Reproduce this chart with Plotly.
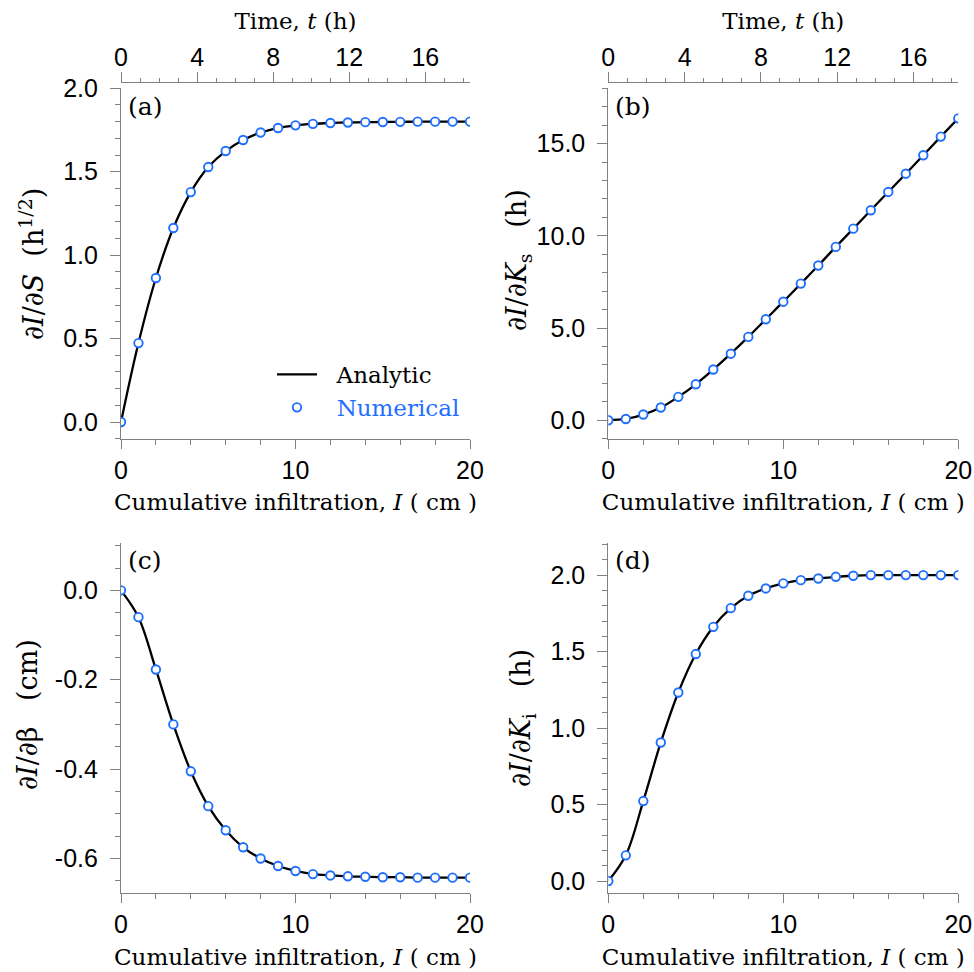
import plotly.graph_objects as go

# ---------------- data ----------------
I_cm = [0, 1, 2, 3, 4, 5, 6, 7, 8, 9, 10, 11, 12, 13, 14, 15, 16, 17, 18, 19, 20]

dIdS_num = [0.0, 0.473, 0.863, 1.163, 1.378, 1.528, 1.624, 1.690, 1.735, 1.762, 1.778,
            1.787, 1.792, 1.795, 1.797, 1.798, 1.799, 1.800, 1.800, 1.800, 1.800]
dIdS_ana = [0.0, 0.473, 0.863, 1.163, 1.378, 1.528, 1.624, 1.690, 1.735, 1.762, 1.778,
            1.787, 1.792, 1.795, 1.797, 1.798, 1.799, 1.800, 1.800, 1.800, 1.800]

dIdKs_num = [0.0, 0.07, 0.31, 0.69, 1.27, 1.95, 2.75, 3.61, 4.52, 5.48, 6.43,
             7.41, 8.39, 9.40, 10.39, 11.39, 12.38, 13.37, 14.37, 15.38, 16.37]
dIdKs_ana = [0.0, 0.07, 0.31, 0.69, 1.27, 1.95, 2.75, 3.61, 4.52, 5.48, 6.43,
             7.41, 8.39, 9.40, 10.39, 11.39, 12.38, 13.37, 14.37, 15.38, 16.37]

dIdB_num = [0.0, -0.060, -0.177, -0.300, -0.405, -0.483, -0.537, -0.575, -0.600, -0.617, -0.628,
            -0.635, -0.638, -0.640, -0.641, -0.642, -0.642, -0.643, -0.643, -0.643, -0.643]
dIdB_ana = [0.0, -0.060, -0.177, -0.300, -0.405, -0.483, -0.537, -0.575, -0.600, -0.617, -0.628,
            -0.635, -0.638, -0.640, -0.641, -0.642, -0.642, -0.643, -0.643, -0.643, -0.643]

dIdKi_num = [0.0, 0.168, 0.523, 0.906, 1.233, 1.484, 1.662, 1.784, 1.865, 1.913, 1.946,
             1.967, 1.978, 1.989, 1.996, 2.0, 2.0, 2.0, 2.0, 2.0, 2.0]
dIdKi_ana = [0.0, 0.168, 0.523, 0.906, 1.233, 1.484, 1.662, 1.784, 1.865, 1.913, 1.946,
             1.967, 1.978, 1.989, 1.996, 2.0, 2.0, 2.0, 2.0, 2.0, 2.0]

x_tickvals = [0, 10, 20]
x_ticktext = ["0", "10", "20"]
t_tickvals = [0, 4, 8, 12, 16]
t_ticktext = ["0", "4", "8", "12", "16"]
ya_tickvals = [0, 0.5, 1.0, 1.5, 2.0]
ya_ticktext = ["0.0", "0.5", "1.0", "1.5", "2.0"]
yb_tickvals = [0, 5, 10, 15]
yb_ticktext = ["0.0", "5.0", "10.0", "15.0"]
yc_tickvals = [0, -0.2, -0.4, -0.6]
yc_ticktext = ["0.0", "-0.2", "-0.4", "-0.6"]
yd_tickvals = [0, 0.5, 1.0, 1.5, 2.0]
yd_ticktext = ["0.0", "0.5", "1.0", "1.5", "2.0"]

panel_labels = ["(a)", "(b)", "(c)", "(d)"]
y_titles = [
    "∂<i>I</i>/∂<i>S</i>&nbsp;&nbsp;(h<sup>1/2</sup>)",
    "∂<i>I</i>/∂<i>K</i><sub>s</sub>&nbsp;&nbsp;&nbsp;(h)",
    "∂<i>I</i>/∂β&nbsp;&nbsp;&nbsp;(cm)",
    "∂<i>I</i>/∂<i>K</i><sub>i</sub>&nbsp;&nbsp;&nbsp;(h)",
]

# ---------------- styling ----------------
W, H = 974, 972
BLUE = "#1f6fff"
AXC = "#808080"
SANS = "Liberation Sans, Arial, sans-serif"
SERIF = "DejaVu Serif, serif"
TICKF = dict(family=SANS, size=25, color="black")
TITLEF = dict(family=SERIF, size=23, color="black")
PAD = "\u00a0"  # small gap between y tick labels and ticks


def px(x):
    return x / W


def py(y):
    return 1 - y / H


col_dom = [[px(121), px(470)], [px(608.3), px(958.3)]]
row_dom = [[py(438.7), py(88.3)], [py(893.3), py(543)]]

fig = go.Figure()

series = [
    (dIdS_ana, dIdS_num, "x", "y"),
    (dIdKs_ana, dIdKs_num, "x2", "y2"),
    (dIdB_ana, dIdB_num, "x3", "y3"),
    (dIdKi_ana, dIdKi_num, "x4", "y4"),
]
for k, (ana, num, xa, ya) in enumerate(series):
    fig.add_trace(go.Scatter(
        x=I_cm, y=ana, mode="lines", line=dict(color="black", width=2.3, shape="spline", smoothing=1.0),
        name="&nbsp;&nbsp;Analytic", showlegend=(k == 0), xaxis=xa, yaxis=ya, legendgroup="a"))
    fig.add_trace(go.Scatter(
        x=I_cm, y=num, mode="markers",
        marker=dict(symbol="circle", size=8.5, color="white", line=dict(color=BLUE, width=1.9)),
        name=f"&nbsp;&nbsp;<span style='color:{BLUE}'>Numerical</span>", showlegend=(k == 0),
        xaxis=xa, yaxis=ya, legendgroup="n"))

# empty helper traces so the top time axes are created
fig.add_trace(go.Scatter(x=[], y=[], xaxis="x5", yaxis="y", showlegend=False, hoverinfo="skip"))
fig.add_trace(go.Scatter(x=[], y=[], xaxis="x6", yaxis="y2", showlegend=False, hoverinfo="skip"))

xtitle = "Cumulative infiltration, <i>I</i> ( cm )"


def xaxis_cfg(dom, anchor):
    return dict(
        domain=dom, anchor=anchor, range=[0, 20], tickvals=x_tickvals, ticktext=x_ticktext,
        automargin=False,
        showline=True, linecolor=AXC, linewidth=1.2, ticks="outside", ticklen=9, tickwidth=1.2,
        tickcolor=AXC, tickfont=TICKF, showgrid=False, zeroline=False,
        minor=dict(dtick=2, tick0=0, ticks="outside", ticklen=5, tickwidth=1.2, tickcolor=AXC, showgrid=False),
        title=dict(text=xtitle, font=TITLEF, standoff=11),
    )


def yaxis_cfg(dom, anchor, rng, tv, tt, mdt):
    return dict(
        domain=dom, anchor=anchor, range=rng, tickvals=tv, ticktext=[t + PAD for t in tt],
        automargin=False,
        showline=True, linecolor=AXC, linewidth=1.2, ticks="outside", ticklen=10, tickwidth=1.2,
        tickcolor=AXC, tickfont=TICKF, showgrid=False, zeroline=False,
        minor=dict(dtick=mdt, tick0=0, ticks="outside", ticklen=5, tickwidth=1.2, tickcolor=AXC, showgrid=False),
    )


def taxis_cfg(over, pos):
    return dict(
        overlaying=over, side="top", anchor="free", position=pos, range=[0, 18.35],
        tickvals=t_tickvals, ticktext=t_ticktext, automargin=False, ticklabelstandoff=-4,
        showline=True, linecolor=AXC, linewidth=1.2, ticks="outside", ticklen=10, tickwidth=1.2,
        tickcolor=AXC, tickfont=TICKF, showgrid=False, zeroline=False,
        minor=dict(dtick=1, tick0=0, ticks="outside", ticklen=4, tickwidth=1.2, tickcolor=AXC, showgrid=False),
        title=dict(text="Time, <i>t</i> (h)", font=TITLEF, standoff=5),
    )


fig.update_layout(
    width=W, height=H, margin=dict(l=0, r=0, t=0, b=0, autoexpand=False),
    paper_bgcolor="white", plot_bgcolor="white",
    xaxis=xaxis_cfg(col_dom[0], "y"),
    xaxis2=xaxis_cfg(col_dom[1], "y2"),
    xaxis3=xaxis_cfg(col_dom[0], "y3"),
    xaxis4=xaxis_cfg(col_dom[1], "y4"),
    yaxis=yaxis_cfg(row_dom[0], "x", [-0.1, 2.0], ya_tickvals, ya_ticktext, 0.1),
    yaxis2=yaxis_cfg(row_dom[0], "x2", [-1, 18], yb_tickvals, yb_ticktext, 1),
    yaxis3=yaxis_cfg(row_dom[1], "x3", [-0.678, 0.106], yc_tickvals, yc_ticktext, 0.05),
    yaxis4=yaxis_cfg(row_dom[1], "x4", [-0.08, 2.21], yd_tickvals, yd_ticktext, 0.1),
    xaxis5=taxis_cfg("x", py(81.7)),
    xaxis6=taxis_cfg("x2", py(81.7)),
    legend=dict(x=px(272), y=py(353), xanchor="left", yanchor="top",
                bgcolor="rgba(0,0,0,0)", font=dict(family=SERIF, size=23, color="black"),
                itemwidth=40, tracegroupgap=0),
    showlegend=True,
)

# y-axis titles (rotated)
ytitle_pos = [(px(31), py(264)), (px(518), py(260)), (px(27), py(715)), (px(522), py(718))]
for txt, (tx, ty) in zip(y_titles, ytitle_pos):
    fig.add_annotation(x=tx, y=ty, xref="paper", yref="paper", text=txt, showarrow=False,
                       textangle=-90, xanchor="center", yanchor="middle",
                       font=dict(family=SERIF, size=27, color="black"))

label_pos = [(px(126), py(106)), (px(613), py(106)), (px(126), py(560)), (px(613), py(560))]
for lab, (lx, ly) in zip(panel_labels, label_pos):
    fig.add_annotation(x=lx, y=ly, xref="paper", yref="paper", text=lab, showarrow=False,
                       xanchor="left", yanchor="middle", font=dict(family=SERIF, size=25, color="black"))

fig.write_html("out.html")
